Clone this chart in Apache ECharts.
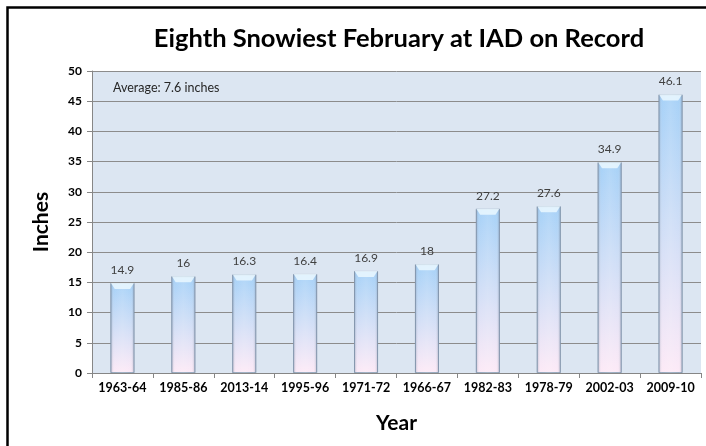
<!DOCTYPE html>
<html>
<head>
<meta charset="utf-8">
<script src="https://cdn.jsdelivr.net/npm/echarts@6/dist/echarts.min.js"></script>
<style>
html,body{margin:0;padding:0;background:#fff;}
#chart{width:706px;height:446px;}
</style>
</head>
<body>
<div id="chart"></div>
<script>
var categories = ['1963-64','1985-86','2013-14','1995-96','1971-72','1966-67','1982-83','1978-79','2002-03','2009-10'];
var snowfall = [14.9, 16, 16.3, 16.4, 16.9, 18, 27.2, 27.6, 34.9, 46.1];
var yTicks = {min: 0, max: 50, interval: 5};
var titleText = 'Eighth Snowiest February at IAD on Record';
var noteText = 'Average: 7.6 inches';

var FONT = 'Lato, "Open Sans", sans-serif';
var chart = echarts.init(document.getElementById('chart'), null, {renderer: 'canvas'});

var option = {
  animation: false,
  backgroundColor: '#ffffff',
  title: {
    text: titleText,
    left: 394, top: 21, textAlign: 'center',
    textStyle: {fontFamily: FONT, fontWeight: 'bold', fontSize: 25.5, color: '#000'}
  },
  grid: {left: 92, right: 5, top: 71, bottom: 73, show: true, backgroundColor: '#dce6f2', borderWidth: 0},
  xAxis: {
    type: 'category',
    data: categories,
    name: 'Year',
    nameLocation: 'middle',
    nameGap: 40,
    nameTextStyle: {fontFamily: FONT, fontWeight: 'bold', fontSize: 21, color: '#000'},
    axisLine: {show: true, lineStyle: {color: '#868686', width: 1}},
    axisTick: {show: true, length: 5, lineStyle: {color: '#868686'}},
    axisLabel: {fontFamily: FONT, fontWeight: 'bold', fontSize: 12.5, color: '#000', margin: 8, interval: 0}
  },
  yAxis: {
    type: 'value',
    min: yTicks.min, max: yTicks.max, interval: yTicks.interval,
    name: 'Inches',
    nameLocation: 'middle',
    nameGap: 40,
    nameTextStyle: {fontFamily: FONT, fontWeight: 'bold', fontSize: 21, color: '#000'},
    axisLine: {show: true, lineStyle: {color: '#868686', width: 1}},
    axisTick: {show: true, length: 5, lineStyle: {color: '#868686'}},
    axisLabel: {fontFamily: FONT, fontWeight: 'bold', fontSize: 12, color: '#000', margin: 10},
    splitLine: {show: true, lineStyle: {color: '#8c8c8c', width: 1}}
  },
  series: [
    {
      type: 'bar',
      data: snowfall,
      barWidth: 24,
      itemStyle: {
        color: new echarts.graphic.LinearGradient(0, 0, 0, 1, [
          {offset: 0, color: '#a2cff7'},
          {offset: 0.45, color: '#cbdcf6'},
          {offset: 1, color: '#fde9f6'}
        ]),
        borderColor: '#93a6bb',
        borderWidth: 1
      },
      label: {
        show: true, position: 'top', distance: 7,
        fontFamily: FONT, fontSize: 12, color: '#404040'
      },
      z: 2
    },
    {
      type: 'bar',
      data: snowfall,
      barWidth: 24,
      barGap: '-100%',
      silent: true,
      itemStyle: {
        color: new echarts.graphic.LinearGradient(0, 0, 1, 0, [
          {offset: 0, color: 'rgba(80,100,130,0.40)'},
          {offset: 0.16, color: 'rgba(255,255,255,0.05)'},
          {offset: 0.5, color: 'rgba(255,255,255,0.15)'},
          {offset: 0.84, color: 'rgba(255,255,255,0.05)'},
          {offset: 1, color: 'rgba(80,100,130,0.40)'}
        ])
      },
      z: 3
    },
    {
      type: 'pictorialBar',
      data: snowfall,
      symbol: 'path://M0,0 L24,0 L20,6 L4,6 Z',
      symbolSize: [23, 6],
      symbolPosition: 'end',
      silent: true,
      itemStyle: {color: 'rgba(235,248,255,0.85)'},
      z: 4
    }
  ],
  graphic: [
    {type: 'rect', left: 5, top: 5, shape: {width: 800, height: 600}, style: {fill: 'none', stroke: '#000', lineWidth: 2.5}, z: 100},
    {type: 'text', left: 113, top: 81, style: {text: noteText, fontFamily: FONT, fontSize: 12.5, fill: '#262626'}, z: 100}
  ]
};
chart.setOption(option);
</script>
</body>
</html>
